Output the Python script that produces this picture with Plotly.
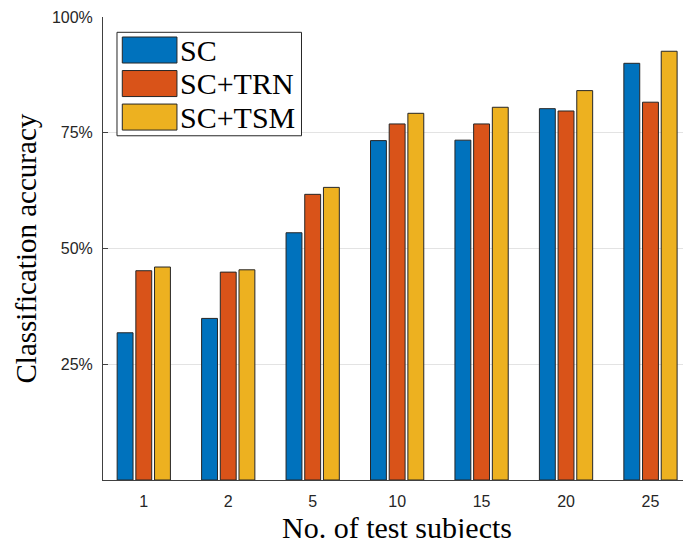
import plotly.graph_objects as go

categories = ["1", "2", "5", "10", "15", "20", "25"]
series_names = ["SC", "SC+TRN", "SC+TSM"]
sc = [0.318, 0.349, 0.534, 0.733, 0.734, 0.802, 0.900]
sc_trn = [0.452, 0.449, 0.617, 0.769, 0.769, 0.797, 0.816]
sc_tsm = [0.460, 0.454, 0.632, 0.792, 0.805, 0.841, 0.926]
y_ticks = [0.25, 0.50, 0.75, 1.00]
y_tick_labels = ["25%", "50%", "75%", "100%"]
colors = ["#0072BD", "#D95319", "#EDB120"]

W, H = 683, 538
# plot-area edges in page pixels
P_LEFT, P_TOP, P_BOTTOM, P_RIGHT = 102.7, 17.0, 479.7, 683.0
L, T = P_LEFT, P_TOP
B = H - P_BOTTOM
R = W - P_RIGHT
PW, PH = P_RIGHT - P_LEFT, P_BOTTOM - P_TOP


def px_x(x):
    return (x - P_LEFT) / PW


def px_y(y):
    return (P_BOTTOM - y) / PH


fig = go.Figure()
for name, vals, col in zip(series_names, [sc, sc_trn, sc_tsm], colors):
    fig.add_trace(go.Bar(
        x=categories, y=vals, name=name,
        marker=dict(color=col, line=dict(color="#262626", width=1)),
        showlegend=False,
    ))

serif = "Liberation Serif"
sans = "Liberation Sans"

# MATLAB-like legend box
shapes = [dict(type="rect", xref="paper", yref="paper",
               x0=px_x(116.7), x1=px_x(301.3), y0=px_y(135.7), y1=px_y(32.3),
               line=dict(color="#262626", width=1), fillcolor="white", layer="above")]
annotations = []
for i, (name, col) in enumerate(zip(series_names, colors)):
    top = 37.0 + i * 33.5
    shapes.append(dict(type="rect", xref="paper", yref="paper",
                       x0=px_x(122), x1=px_x(176.7), y0=px_y(top + 26), y1=px_y(top),
                       line=dict(color="#262626", width=1), fillcolor=col, layer="above"))
    annotations.append(dict(text=name, xref="paper", yref="paper",
                            x=px_x(178), y=px_y(top + 13), xanchor="left", yanchor="middle",
                            showarrow=False, font=dict(family=serif, size=30, color="black")))

annotations.append(dict(text="Classification accuracy", xref="paper", yref="paper",
                        x=px_x(26), y=px_y(248), textangle=-90, xanchor="center", yanchor="middle",
                        showarrow=False, font=dict(family=serif, size=29, color="black")))
annotations.append(dict(text="No. of test subjects", xref="paper", yref="paper",
                        x=px_x(396.5), y=px_y(508.5), xanchor="center", yanchor="top",
                        showarrow=False, font=dict(family=serif, size=30, color="black")))

fig.update_layout(
    width=W, height=H,
    margin=dict(l=L, r=R, t=T, b=B, pad=0),
    paper_bgcolor="white", plot_bgcolor="white",
    barmode="group", bargap=0.336, bargroupgap=0.15,
    shapes=shapes, annotations=annotations,
    xaxis=dict(type="category", range=[-0.483, 6.385], showgrid=False,
               showline=True, linecolor="#404040", linewidth=1, ticks="",
               ticklabelstandoff=7,
               tickfont=dict(family=sans, size=16, color="#262626"), fixedrange=True),
    yaxis=dict(range=[0, 1], tickvals=y_ticks, ticktext=y_tick_labels,
               showgrid=True, gridcolor="#e3e3e3", gridwidth=1,
               showline=True, linecolor="#404040", linewidth=1,
               ticks="inside", ticklen=5, tickcolor="#404040",
               ticklabelstandoff=6,
               zeroline=False,
               tickfont=dict(family=sans, size=16, color="#262626")),
)

fig.write_html(
    "out.html",
    config={"displayModeBar": False},
    post_script="document.body.style.margin='0px';document.body.style.overflow='hidden';",
)
